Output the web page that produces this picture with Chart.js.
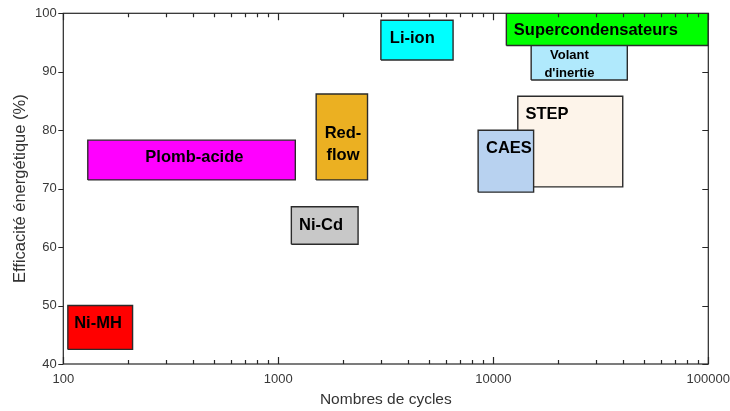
<!DOCTYPE html>
<html>
<head>
<meta charset="utf-8">
<script src="https://cdn.jsdelivr.net/npm/chart.js@4/dist/chart.umd.min.js"></script>
<style>
  html, body { margin: 0; padding: 0; background: #ffffff; }
  #wrap { width: 730px; height: 411px; position: relative; }
</style>
</head>
<body>
<div id="wrap"><canvas id="c" width="730" height="411"></canvas></div>
<script>
// ---------- DATA ----------
const categories = ['Ni-MH', 'Plomb-acide', 'Ni-Cd', 'Red-flow', 'Li-ion', 'STEP', 'CAES', "Volant d'inertie", 'Supercondensateurs'];
const cyclesMin  = [105, 130, 1150, 1500, 3000, 13000, 8500, 15000, 11500];
const cyclesMax  = [210, 1200, 2350, 2600, 6500, 40000, 15400, 42000, 100000];
const effMin     = [42.5, 71.5, 60.5, 71.5, 92.0, 70.3, 69.4, 88.6, 94.5];
const effMax     = [50.0, 78.3, 66.9, 86.2, 98.8, 85.8, 80.0, 96.0, 100];
const cycleTicks = [100, 1000, 10000, 100000];
const effTicks   = [40, 50, 60, 70, 80, 90, 100];

// ---------- STYLE ----------
const fillColors = ['#ff0000', '#ff00ff', '#c8c8c8', '#ebb022', '#00ffff', '#fdf4ea', '#b8d2f0', '#b0e9fc', '#00ff00'];
const labelLines = [['Ni-MH'], ['Plomb-acide'], ['Ni-Cd'], ['Red-', 'flow'], ['Li-ion'], ['STEP'], ['CAES'], ['Volant', "d'inertie"], ['Supercondensateurs']];
const labelAnchorX = [145, 407, 1580, 2000, 4200, 17760, 11820, 22600, 30000];
const labelAnchorY = [47.2, 75.6, 63.9, 77.8, 96.0, 83.0, 77.2, 91.5, 97.3];
const labelFontSize = [16.5, 16.5, 16.5, 16.5, 16.5, 16.5, 16.5, 13, 16.5];
const labelLineGap = [0, 0, 0, 21.3, 0, 0, 0, 18, 0];
const FONT = "'Liberation Sans', Arial, sans-serif";

const datasets = categories.map((name, i) => ({
  label: name,
  data: [
    { x: cyclesMin[i], y: effMin[i] },
    { x: cyclesMax[i], y: effMin[i] },
    { x: cyclesMax[i], y: effMax[i] },
    { x: cyclesMin[i], y: effMax[i] },
    { x: cyclesMin[i], y: effMin[i] }
  ],
  showLine: true,
  fill: 'shape',
  backgroundColor: fillColors[i],
  borderColor: '#2b2b2b',
  borderWidth: 1.4,
  pointRadius: 0,
  pointHoverRadius: 0,
  tension: 0,
  order: categories.length - i
}));

const framePlugin = {
  id: 'frame',
  afterDatasetsDraw(chart) {
    const { ctx, chartArea: a, scales: { x, y } } = chart;
    ctx.save();
    ctx.strokeStyle = '#262626';
    ctx.lineWidth = 1.2;
    ctx.strokeRect(a.left, a.top, a.right - a.left, a.bottom - a.top);
    ctx.beginPath();
    for (let d = 0; d < cycleTicks.length; d++) {
      const base = cycleTicks[d];
      for (let m = 1; m <= 9; m++) {
        const v = base * m;
        if (v > x.max * 1.0001) break;
        const px = Math.round(x.getPixelForValue(v)) + 0.5;
        const len = m === 1 ? 7 : 4;
        ctx.moveTo(px, a.bottom); ctx.lineTo(px, a.bottom - len);
        ctx.moveTo(px, a.top); ctx.lineTo(px, a.top + len);
      }
    }
    effTicks.forEach(v => {
      const py = Math.round(y.getPixelForValue(v)) + 0.5;
      ctx.moveTo(a.left - 5, py); ctx.lineTo(a.left, py);
      ctx.moveTo(a.right, py); ctx.lineTo(a.right - 6, py);
    });
    ctx.stroke();

    ctx.fillStyle = '#000000';
    ctx.textAlign = 'center';
    ctx.textBaseline = 'middle';
    categories.forEach((name, i) => {
      ctx.font = 'bold ' + labelFontSize[i] + 'px ' + FONT;
      const cx = x.getPixelForValue(labelAnchorX[i]);
      const cy = y.getPixelForValue(labelAnchorY[i]) + 1.5;
      const lines = labelLines[i];
      const gap = labelLineGap[i];
      lines.forEach((t, k) => {
        ctx.fillText(t, cx, cy + (k - (lines.length - 1) / 2) * gap);
      });
    });
    ctx.restore();
  }
};

new Chart(document.getElementById('c'), {
  type: 'scatter',
  data: { datasets },
  options: {
    responsive: false,
    animation: false,
    events: [],
    layout: { padding: { left: 0, top: 13.3, right: 21.7, bottom: 0 } },
    plugins: { legend: { display: false }, tooltip: { enabled: false } },
    scales: {
      x: {
        type: 'logarithmic',
        min: 100, max: 100000,
        afterBuildTicks: s => { s.ticks = cycleTicks.map(v => ({ value: v, major: true })); },
        afterFit: s => { s.height = 47; s.paddingLeft = 0; s.paddingRight = 0; },
        grid: { display: false, drawTicks: false },
        border: { display: false },
        ticks: { color: '#383838', font: { family: FONT, size: 13 }, padding: 7.2, autoSkip: false, maxRotation: 0,
                 callback: v => String(v) },
        title: { display: true, text: 'Nombres de cycles', color: '#333333', font: { family: FONT, size: 15.5 }, padding: { top: 0, bottom: 1.7 } }
      },
      y: {
        type: 'linear',
        min: 40, max: 100,
        afterBuildTicks: s => { s.ticks = effTicks.map(v => ({ value: v })); },
        afterFit: s => { s.width = 63.3; s.paddingTop = 0; s.paddingBottom = 0; },
        grid: { display: false, drawTicks: false },
        border: { display: false },
        ticks: { color: '#383838', font: { family: FONT, size: 13 }, padding: 6.6, callback: v => String(v) },
        title: { display: true, text: 'Efficacité énergétique (%)', color: '#333333', font: { family: FONT, size: 16.5 }, padding: { top: 10.6, bottom: 0 } }
      }
    }
  },
  plugins: [framePlugin]
});
</script>
</body>
</html>
